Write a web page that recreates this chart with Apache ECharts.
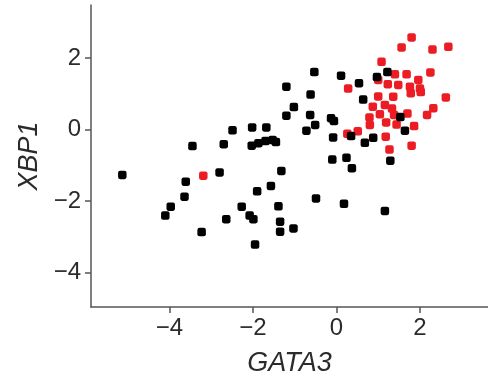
<!DOCTYPE html>
<html>
<head>
<meta charset="utf-8">
<script src="https://cdn.jsdelivr.net/npm/echarts@6/dist/echarts.min.js"></script>
<style>
  html, body { margin: 0; padding: 0; background: #fff; }
  #chart { width: 488px; height: 376px; }
</style>
</head>
<body>
<div id="chart"></div>
<script>
// GATA3 vs XBP1 expression, [x, y]
const blackPoints = [
  [-5.13, -1.27], [-4.10, -2.41], [-3.97, -2.16], [-3.64, -1.88], [-3.61, -1.46],
  [-3.45, -0.46], [-3.23, -2.87], [-2.80, -1.20], [-2.70, -0.41], [-2.64, -2.51],
  [-2.49, -0.02], [-2.27, -2.16], [-2.08, -2.41], [-1.99, -2.51], [-2.03, -0.45],
  [-2.02, 0.06], [-1.95, -3.22], [-1.90, -1.73], [-1.87, -0.38], [-1.70, -0.32],
  [-1.68, 0.06], [-1.57, -1.58], [-1.53, -0.29], [-1.45, -0.35], [-1.39, -2.15],
  [-1.35, -2.58], [-1.35, -2.86], [-1.32, -1.16], [-1.20, 1.20], [-1.20, 0.39],
  [-1.03, -2.77], [-1.02, 0.63], [-0.72, -0.03], [-0.62, 0.98], [-0.63, 0.41],
  [-0.53, 1.61], [-0.51, 0.13], [-0.49, -1.93], [-0.13, 0.32], [-0.06, 0.24],
  [-0.08, -0.22], [-0.10, -0.84], [0.11, 1.51], [0.18, -2.08], [0.24, -0.79],
  [0.35, -0.18], [0.37, -1.08], [0.54, 1.30], [0.64, 0.84], [0.68, -0.37],
  [0.88, -0.23], [0.97, 1.47], [1.22, 1.61], [1.16, -2.28], [1.29, -0.87],
  [1.53, 0.35], [1.64, -0.03]
];
const redPoints = [
  [-3.19, -1.29], [0.26, -0.12], [0.51, -0.05], [0.28, 1.15], [1.08, 1.90],
  [1.56, 2.30], [1.80, 2.58], [2.30, 2.24], [2.68, 2.32], [2.25, 1.60],
  [1.00, 1.39], [1.40, 1.55], [1.68, 1.55], [1.96, 1.39], [1.48, 1.25],
  [1.76, 1.20], [2.00, 1.15], [1.78, 1.02], [2.02, 1.05], [1.00, 0.93],
  [1.36, 0.92], [2.62, 0.90], [0.87, 0.64], [1.16, 0.69], [1.33, 0.59],
  [2.32, 0.60], [2.17, 0.41], [1.70, 0.45], [0.79, 0.34], [1.04, 0.43],
  [0.80, 0.13], [1.19, 0.20], [1.44, 0.14], [1.86, 0.10], [1.18, -0.20],
  [1.27, -0.56], [1.80, -0.45], [1.23, 1.27], [1.38, 0.41]
];
const tickValues = [-4, -2, 0, 2];
const xRange = [-5.88, 3.63];
const yRange = [-4.97, 3.49];

const chart = echarts.init(document.getElementById('chart'));

const textColor = '#2b2b2b';
const axisColor = '#555';
const fontFamily = '"Liberation Sans", Arial, Helvetica, sans-serif';

const axisCommon = {
  type: 'value',
  splitLine: { show: false },
  axisLine: { show: true, onZero: false, lineStyle: { color: axisColor, width: 1.5 } },
  axisTick: { show: true, length: 6, customValues: tickValues, lineStyle: { color: axisColor, width: 1.5 } },
  axisLabel: {
    customValues: tickValues,
    color: textColor,
    fontSize: 24,
    fontFamily: fontFamily,
    formatter: v => (v < 0 ? '\u2212' + Math.abs(v) : String(v))
  },
  nameLocation: 'middle',
  nameTextStyle: { color: textColor, fontSize: 27, fontStyle: 'italic', fontFamily: fontFamily }
};

chart.setOption({
  animation: false,
  grid: { left: 91, right: 0, top: 5, bottom: 69, outerBoundsMode: 'none', containLabel: false },
  xAxis: Object.assign({}, axisCommon, {
    min: xRange[0], max: xRange[1],
    name: 'GATA3', nameGap: 43,
    axisLabel: Object.assign({}, axisCommon.axisLabel, { margin: 9 })
  }),
  yAxis: Object.assign({}, axisCommon, {
    min: yRange[0], max: yRange[1],
    name: 'XBP1', nameGap: 48,
    axisLabel: Object.assign({}, axisCommon.axisLabel, { margin: 10 })
  }),
  series: [
    {
      name: 'red',
      type: 'scatter',
      data: redPoints,
      symbol: 'roundRect',
      symbolSize: 8.5,
      itemStyle: { color: '#ec1c24', opacity: 1 }
    },
    {
      name: 'black',
      type: 'scatter',
      data: blackPoints,
      symbol: 'roundRect',
      symbolSize: 8.5,
      itemStyle: { color: '#000', opacity: 1 }
    }
  ]
});
</script>
</body>
</html>
